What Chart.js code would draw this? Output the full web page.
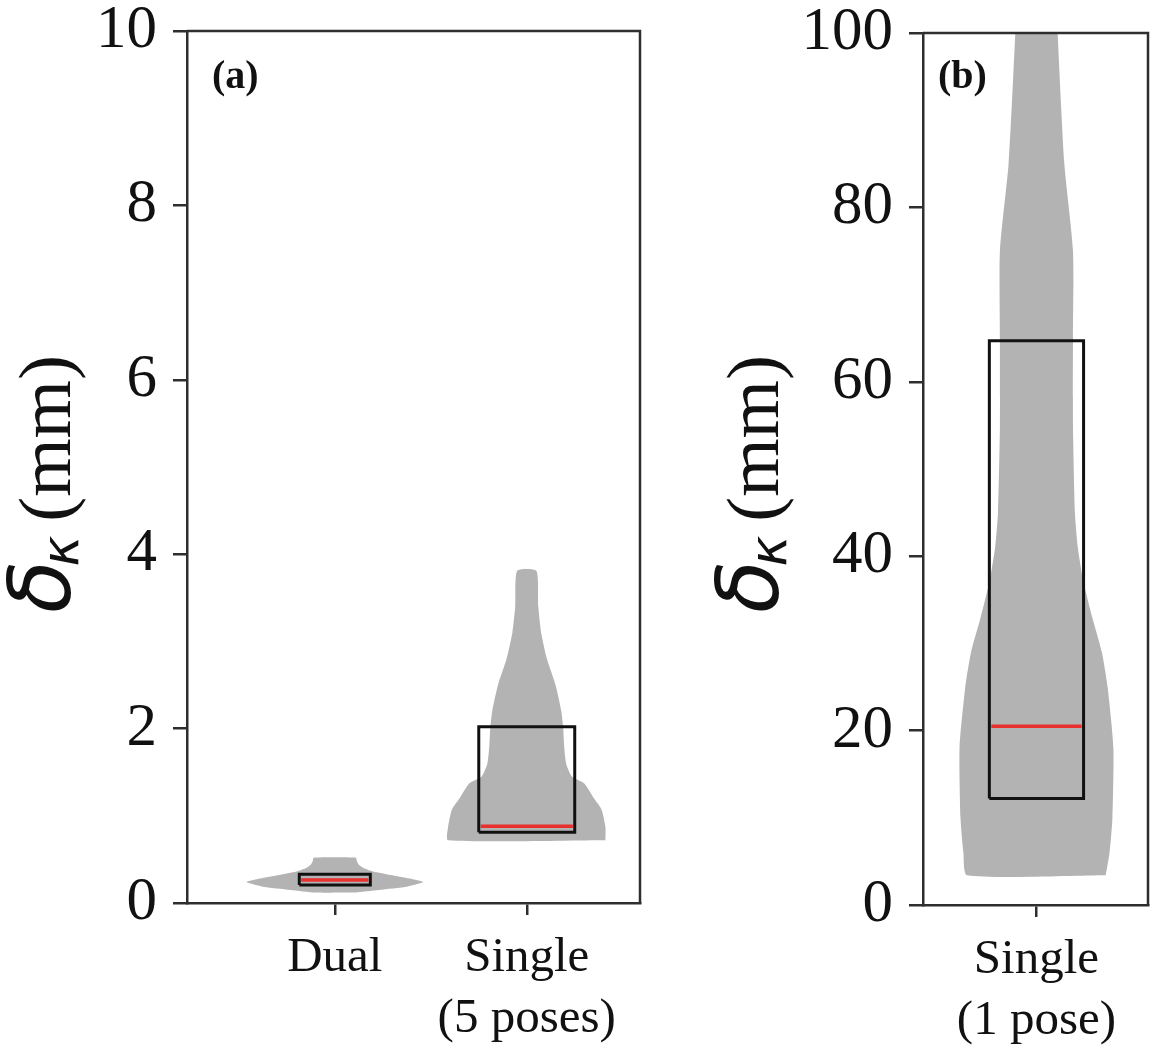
<!DOCTYPE html>
<html><head><meta charset="utf-8">
<script src="https://cdn.jsdelivr.net/npm/chart.js@4.4.0/dist/chart.umd.min.js"></script>
<style>
html,body{margin:0;padding:0;background:#fff;}
#wrap{position:relative;width:1155px;height:1057px;overflow:hidden;}
#ca{position:absolute;left:0;top:0;}
#cb{position:absolute;left:660px;top:0;}
</style></head><body>
<div id="wrap"><canvas id="ca" width="660" height="1057"></canvas><canvas id="cb" width="495" height="1057"></canvas></div>
<script>
// ---------- data ----------
const categoriesA = ['Dual', ['Single', '(5 poses)']];
const positionsA = [1, 2];
const categoriesB = [['Single', '(1 pose)']];
const positionsB = [1];
const yTicksA = [0, 2, 4, 6, 8, 10];
const yTicksB = [0, 20, 40, 60, 80, 100];
const yTitle = ['δ', 'κ', '(mm)'];
const panelLabels = ['(a)', '(b)'];

// violin outlines: value levels and half widths (in category units)
const dualViolinY  = [0.12, 0.15, 0.19, 0.24, 0.28, 0.32, 0.36, 0.40, 0.44, 0.48, 0.52];
const dualViolinHW = [0.10, 0.23, 0.38, 0.46, 0.39, 0.29, 0.20, 0.15, 0.125, 0.115, 0.11];
const single5ViolinY  = [0.72, 0.87, 1.07, 1.2, 1.37, 1.45, 1.6, 1.8, 2.0, 2.2, 2.5, 2.8, 3.1, 3.4, 3.81];
const single5ViolinHW = [0.41, 0.41, 0.39, 0.35, 0.30, 0.235, 0.205, 0.195, 0.19, 0.18, 0.15, 0.105, 0.075, 0.06, 0.05];
const single1ViolinY  = [3.4, 6, 10, 18, 25, 29, 33, 37, 41, 45, 55, 65, 75, 85, 100, 108];
const single1ViolinHW = [0.36, 0.38, 0.395, 0.40, 0.37, 0.34, 0.29, 0.245, 0.215, 0.20, 0.19, 0.19, 0.19, 0.145, 0.11, 0.095];

// boxes
const boxQ1A = [0.205, 0.81];
const boxQ3A = [0.33, 2.02];
const medianA = [0.265, 0.88];
const boxHalfA = [0.185, 0.25];
const boxQ1B = [12.2];
const boxQ3B = [64.7];
const medianB = [20.5];
const boxHalfB = [0.245];

// ---------- helpers ----------
const GRAY = '#b3b3b3', RED = '#e8302c', AX = '#2e2e2e', INK = '#111111';

function violinDataset(pos, ys, hws) {
  const pts = [];
  for (let i = 0; i < ys.length; i++) pts.push({x: pos + hws[i], y: ys[i]});
  for (let i = ys.length - 1; i >= 0; i--) pts.push({x: pos - hws[i], y: ys[i]});
  pts.push({x: pos + hws[0], y: ys[0]});
  return {data: pts, showLine: true, fill: 'shape', backgroundColor: GRAY, borderColor: GRAY,
          borderWidth: 0, pointRadius: 0, tension: 0.2, order: 3};
}
function boxDataset(pos, q1, q3, hw) {
  return {data: [{x: pos - hw, y: q1}, {x: pos + hw, y: q1}, {x: pos + hw, y: q3}, {x: pos - hw, y: q3}, {x: pos - hw, y: q1}],
          showLine: true, fill: false, borderColor: INK, borderWidth: 3, pointRadius: 0,
          borderJoinStyle: 'miter', order: 2};
}
function medianDataset(pos, m, hw) {
  return {data: [{x: pos - hw + 0.01, y: m}, {x: pos + hw - 0.01, y: m}], showLine: true, fill: false,
          borderColor: RED, borderWidth: 3.5, pointRadius: 0, order: 1};
}

function drawYTitle(ctx, bx, by) {
  ctx.save();
  ctx.translate(bx, by);
  ctx.rotate(-Math.PI / 2);
  ctx.fillStyle = INK;
  ctx.textBaseline = 'alphabetic';
  ctx.textAlign = 'left';
  let x = 0;
  ctx.font = "italic 86px 'DejaVu Sans'";
  ctx.fillText(yTitle[0], x, 0); x += ctx.measureText(yTitle[0]).width - 6;
  ctx.font = "italic 52px 'DejaVu Sans'";
  ctx.fillText(yTitle[1], x, 8); x += ctx.measureText(yTitle[1]).width + 14;
  ctx.font = "75px 'Liberation Serif'";
  ctx.fillText(yTitle[2], x, 0);
  ctx.restore();
}

function framePlugin(label, labelX, titleX) {
  return {
    id: 'frame' + label,
    afterDraw(chart) {
      const {ctx, chartArea: a} = chart;
      ctx.save();
      ctx.strokeStyle = AX; ctx.lineWidth = 2.5;
      ctx.beginPath(); ctx.moveTo(a.left, a.top); ctx.lineTo(a.right, a.top); ctx.lineTo(a.right, a.bottom); ctx.stroke();
      ctx.fillStyle = INK;
      ctx.font = "bold 40px 'Liberation Serif'";
      ctx.textBaseline = 'alphabetic';
      ctx.fillText(label, labelX, 88);
      ctx.restore();
      drawYTitle(ctx, titleX, 613);
    }
  };
}

function makeOptions(cfg) {
  return {
    responsive: false, animation: false, devicePixelRatio: 1,
    layout: {padding: {top: cfg.top, right: cfg.right, left: 0, bottom: 0}},
    plugins: {legend: {display: false}, tooltip: {enabled: false}},
    scales: {
      x: {
        type: 'linear', min: cfg.xmin, max: cfg.xmax,
        afterBuildTicks: s => { s.ticks = cfg.pos.map(v => ({value: v})); },
        afterFit: s => { s.height = cfg.xh; },
        ticks: {callback: (v, i) => cfg.cats[i], autoSkip: false, maxRotation: 0,
                font: {family: 'Liberation Serif', size: 49, lineHeight: 1.25}, color: INK, padding: 12},
        grid: {drawOnChartArea: false, drawTicks: true, tickLength: 12, color: AX, lineWidth: 2.5},
        border: {display: true, color: AX, width: 2.5}
      },
      y: {
        type: 'linear', min: 0, max: cfg.ymax,
        afterBuildTicks: s => { s.ticks = cfg.yt.map(v => ({value: v})); },
        afterFit: s => { s.width = cfg.yw; },
        ticks: {font: {family: 'Liberation Serif', size: 61, lineHeight: 0.4}, color: INK, padding: 16},
        grid: {drawOnChartArea: false, drawTicks: true, tickLength: 14, color: AX, lineWidth: 2.5},
        border: {display: true, color: AX, width: 2.5}
      }
    }
  };
}

// ---------- chart (a) ----------
const dsA = [
  violinDataset(positionsA[0], dualViolinY, dualViolinHW),
  violinDataset(positionsA[1], single5ViolinY, single5ViolinHW)
];
for (let i = 0; i < positionsA.length; i++) {
  dsA.push(boxDataset(positionsA[i], boxQ1A[i], boxQ3A[i], boxHalfA[i]));
  dsA.push(medianDataset(positionsA[i], medianA[i], boxHalfA[i]));
}
new Chart(document.getElementById('ca'), {
  type: 'scatter',
  data: {datasets: dsA},
  options: makeOptions({top: 31, right: 20, xmin: 0.23, xmax: 2.59, xh: 154, yw: 187, ymax: 10,
                        pos: positionsA, cats: categoriesA, yt: yTicksA}),
  plugins: [framePlugin(panelLabels[0], 212, 70)]
});

// ---------- chart (b) ----------
const dsB = [violinDataset(positionsB[0], single1ViolinY, single1ViolinHW)];
dsB.push(boxDataset(positionsB[0], boxQ1B[0], boxQ3B[0], boxHalfB[0]));
dsB.push(medianDataset(positionsB[0], medianB[0], boxHalfB[0]));
new Chart(document.getElementById('cb'), {
  type: 'scatter',
  data: {datasets: dsB},
  options: makeOptions({top: 33, right: 7, xmin: 0.41, xmax: 1.58, xh: 152, yw: 263, ymax: 100,
                        pos: positionsB, cats: categoriesB, yt: yTicksB}),
  plugins: [framePlugin(panelLabels[1], 278, 118)]
});
</script>
</body></html>
